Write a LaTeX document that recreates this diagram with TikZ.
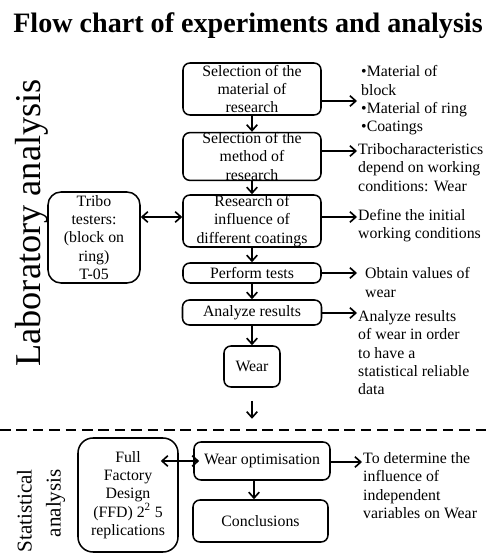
\documentclass[tikz,border=0pt]{standalone}
\usepackage{fontspec}
\setmainfont{Liberation Serif}
\usetikzlibrary{arrows.meta}

\begin{document}
\begin{tikzpicture}[x=0.03cm, y=-0.03cm,
    stage/.style={draw, line width=1.3pt, rounded corners=0.21cm, inner sep=0pt, align=center, font=\fontsize{13.5}{15.6}\selectfont},
    note/.style={anchor=north west, inner sep=0pt, align=left, font=\fontsize{13.5}{15.6}\selectfont},
    arr/.style={line width=1.4pt, -{Straight Barb[length=5pt,width=9pt]}},
    dbl/.style={line width=1.4pt, {Straight Barb[length=5pt,width=9pt]}-{Straight Barb[length=5pt,width=9pt]}}]
       \path[use as bounding box, clip] (0,0) rectangle (486,559);
       % title and side labels
       \node[anchor=base, font=\bfseries\fontsize{24}{28}\selectfont] (title) at (248,32) {Flow chart of experiments and analysis};
       \node[rotate=90, anchor=base, inner sep=0pt, font=\fontsize{31}{36}\selectfont] (lab) at (40,223) {Laboratory analysis};
       \node[rotate=90, anchor=east, align=right, inner sep=0pt, font=\fontsize{18}{24.7}\selectfont] (stat) at (41,469) {Statistical\\analysis};
       % laboratory part
       \node[stage, minimum width=4.14cm, minimum height=1.56cm] (mat) at (252,89) {Selection of the\\material of\\research};
       \node[stage, minimum width=4.14cm, minimum height=1.41cm] (meth) at (252,156.5) {Selection of the\\method of\\research};
       \node[stage, minimum width=4.14cm, minimum height=1.56cm] (coat) at (252,221) {Research of\\influence of\\different coatings};
       \node[stage, minimum width=4.14cm, minimum height=0.6cm] (tests) at (252,273) {Perform tests};
       \node[stage, minimum width=4.17cm, minimum height=0.75cm] (anlz) at (252,312.5) {Analyze results};
       \node[stage, minimum width=1.68cm, minimum height=1.23cm] (wear) at (252,366.5) {Wear};
       \node[stage, rounded corners=0.39cm, minimum width=2.76cm, minimum height=2.73cm] (tribo) at (94,237.5) {Tribo\\testers:\\(block on\\ring)\\T-05};
       \node[note] (n1) at (361,65.5) {\textbullet Material of\\block\\\textbullet Material of ring\\\textbullet Coatings};
       \node[note] (n2) at (358,143.5) {Tribocharacteristics\\depend on working\\conditions: Wear};
       \node[note] (n3) at (358,209) {Define the initial\\working conditions};
       \node[note] (n4) at (365,267.5) {Obtain values of\\wear};
       \node[note] (n5) at (358,310.5) {Analyze results\\of wear in order\\to have a\\statistical reliable\\data};
       \coordinate (a1) at (357,101);
       \coordinate (a2) at (357,151);
       \coordinate (a3) at (357,217);
       \coordinate (a4) at (357,273);
       \coordinate (a5) at (357,313);
       \draw[arr] (mat.east |- a1) -- (a1);
       \draw[arr] (meth.east |- a2) -- (a2);
       \draw[arr] (coat.east |- a3) -- (a3);
       \draw[arr] (tests.east |- a4) -- (a4);
       \draw[arr] (anlz.east |- a5) -- (a5);
       \draw[dbl] (tribo.east |- a3) -- (coat.west |- a3);
       \draw[arr] (mat) -- (meth);
       \draw[arr] (meth) -- (coat);
       \draw[arr] (coat) -- (tests);
       \draw[arr] (tests) -- (anlz);
       \draw[arr] (anlz) -- (wear);
       \draw[arr] ([yshift=-0.39cm]wear.south) -- ++(0,18);
       \draw[line width=2pt, dash pattern=on 9pt off 5pt] (0,430) -- (486,430);
       % statistical part
       \node[stage, rounded corners=0.45cm, minimum width=3cm, minimum height=3.42cm] (ffd) at (128,495) {Full\\Factory\\Design\\(FFD) 2\textsuperscript{2} 5\\replications};
       \node[stage, minimum width=4.08cm, minimum height=1.14cm] (opt) at (262,461) {Wear optimisation};
       \node[stage, minimum width=4.05cm, minimum height=1.26cm] (concl) at (260.5,521) {Conclusions};
       \node[note] (n6) at (363,452.5) {To determine the\\influence of\\independent\\variables on Wear};
       \coordinate (a6) at (362,462);
       \draw[arr] (opt.east |- a6) -- (a6);
       \draw[dbl] ([xshift=-0.54cm]ffd.east |- opt.west) -- ([xshift=0.18cm]opt.west);
       \draw[arr] ([xshift=-0.24cm]opt.south) -- ([xshift=-0.24cm]opt.south |- concl.north);
     \end{tikzpicture}
\end{document}
